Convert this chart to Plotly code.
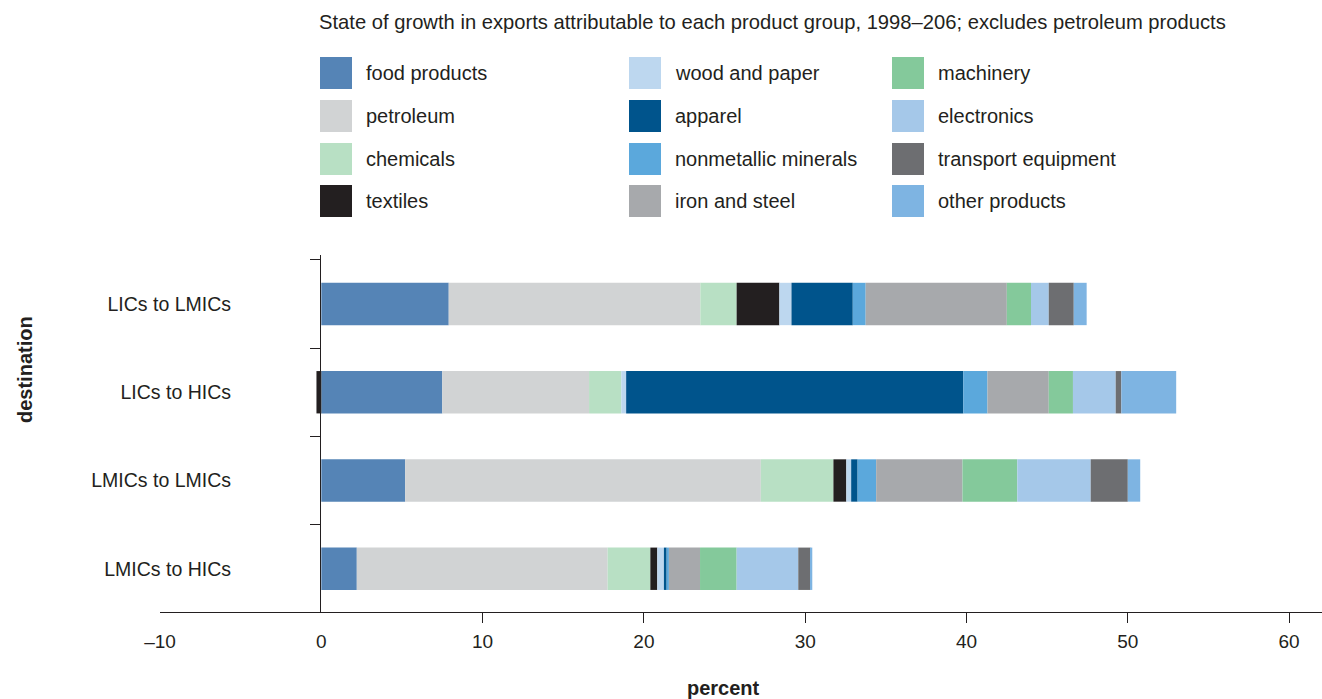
import plotly.graph_objects as go

# ---------------- data ----------------
categories = ["LICs to LMICs", "LICs to HICs", "LMICs to LMICs", "LMICs to HICs"]

products = ["food products", "petroleum", "chemicals", "textiles",
            "wood and paper", "apparel", "nonmetallic minerals", "iron and steel",
            "machinery", "electronics", "transport equipment", "other products"]

food_products = [7.9, 7.5, 5.2, 2.2]
petroleum = [15.6, 9.1, 22.05, 15.55]
chemicals = [2.25, 2.0, 4.5, 2.65]
textiles = [2.65, -0.3, 0.8, 0.43]
wood_and_paper = [0.75, 0.3, 0.3, 0.41]
apparel = [3.8, 20.9, 0.4, 0.17]
nonmetallic_minerals = [0.8, 1.5, 1.15, 0.14]
iron_and_steel = [8.75, 3.8, 5.35, 1.93]
machinery = [1.5, 1.5, 3.4, 2.27]
electronics = [1.1, 2.65, 4.55, 3.82]
transport_equipment = [1.55, 0.35, 2.3, 0.75]
other_products = [0.8, 3.4, 0.77, 0.12]

series = [food_products, petroleum, chemicals, textiles, wood_and_paper, apparel,
          nonmetallic_minerals, iron_and_steel, machinery, electronics,
          transport_equipment, other_products]

colors = ["#5584b6", "#d1d3d4", "#b8e0c4", "#231f20",
          "#bdd7ef", "#00548c", "#5ba8dc", "#a7a9ac",
          "#84c99b", "#a5c8e9", "#6d6e71", "#7eb4e2"]

x_tick_values = [-10, 0, 10, 20, 30, 40, 50, 60]
x_tick_labels = ["\u201310", "0", "10", "20", "30", "40", "50", "60"]

title_text = ("State of growth in exports attributable to each product group, "
              "1998\u2013206; excludes petroleum products")

# ---------------- figure ----------------
W, H = 1322, 699
ML, MR, MT, MB = 160, 0, 255, 87
PW, PH = W - ML - MR, H - MT - MB
FONT = "Liberation Sans, Arial, sans-serif"
TXT = "#231f20"


def px(xp):
    return (xp - ML) / PW


def py(yp):
    return (H - MB - yp) / PH


fig = go.Figure()
for name, vals, col in zip(products, series, colors):
    fig.add_trace(go.Bar(
        y=categories, x=vals, name=name, orientation="h",
        marker=dict(color=col, line=dict(width=0)),
        width=0.48, showlegend=False,
    ))

# legend drawn as big square swatches (3 columns x 4 rows, column-major)
col_left = [320, 629, 892]
row_top = [57, 100, 143, 185]
sw = 32
shapes = []
annotations = []
for i, (name, col) in enumerate(zip(products, colors)):
    c, r = divmod(i, 4)
    x0, y0 = col_left[c], row_top[r]
    shapes.append(dict(type="rect", xref="paper", yref="paper",
                       x0=px(x0), x1=px(x0 + sw), y0=py(y0 + sw), y1=py(y0),
                       fillcolor=col, line=dict(width=0)))
    annotations.append(dict(xref="paper", yref="paper", x=px(x0 + 44), y=py(y0 + sw / 2),
                            text=name, showarrow=False, xanchor="left", yanchor="middle",
                            font=dict(family=FONT, size=20, color=TXT)))

annotations.append(dict(xref="paper", yref="paper", x=px(317), y=py(22),
                        text=title_text, showarrow=False, xanchor="left", yanchor="middle",
                        font=dict(family=FONT, size=20.2, color=TXT)))
annotations.append(dict(xref="paper", yref="paper", x=px(723), y=py(688),
                        text="<b>percent</b>", showarrow=False, xanchor="center",
                        yanchor="middle", font=dict(family=FONT, size=20, color=TXT)))
annotations.append(dict(xref="paper", yref="paper", x=px(25), y=py(370),
                        text="<b>destination</b>", showarrow=False, textangle=-90,
                        xanchor="center", yanchor="middle",
                        font=dict(family=FONT, size=20, color=TXT)))

fig.update_layout(
    width=W, height=H,
    margin=dict(l=ML, r=MR, t=MT, b=MB, pad=0),
    barmode="relative",
    plot_bgcolor="white", paper_bgcolor="white",
    font=dict(family=FONT, size=19, color=TXT),
    shapes=shapes, annotations=annotations,
    xaxis=dict(
        range=[-10, 62.04], tickmode="array", tickvals=x_tick_values,
        ticktext=x_tick_labels, showgrid=False, zeroline=False,
        showline=True, linecolor=TXT, linewidth=1.2,
        ticks="", ticklabelstandoff=12,
        minor=dict(tickmode="array", tickvals=x_tick_values[2:], ticks="outside",
                   ticklen=10, tickcolor=TXT, tickwidth=1),
        tickfont=dict(family=FONT, size=19, color=TXT),
    ),
    yaxis=dict(
        type="category", categoryorder="array", categoryarray=categories,
        range=[3.49, -0.555], anchor="free", position=px(320),
        showline=True, linecolor=TXT, linewidth=1.2, showgrid=False, zeroline=False,
        ticks="outside", tickson="boundaries", ticklen=10, tickcolor=TXT,
        ticklabelstandoff=85,
        tickfont=dict(family=FONT, size=19.5, color=TXT),
    ),
)

fig.write_html("out.html", config={"displayModeBar": False},
               post_script="document.body.style.margin='0';"
                           "document.body.style.overflow='hidden';")
